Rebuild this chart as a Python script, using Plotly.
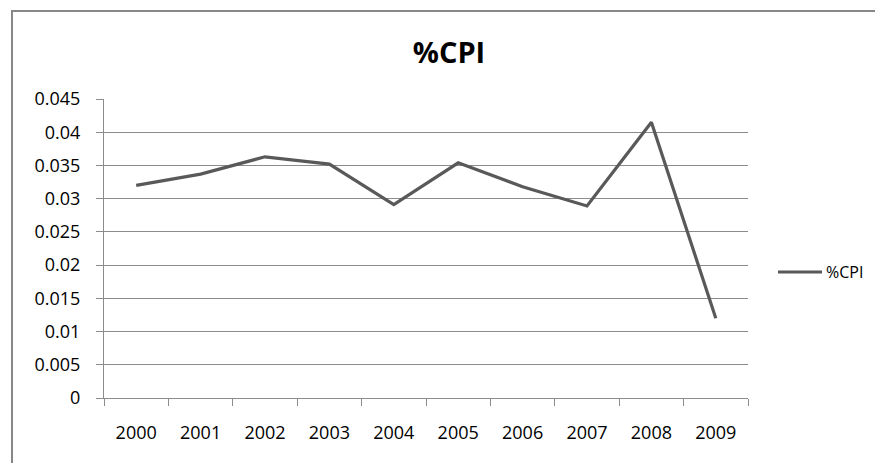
import plotly.graph_objects as go

years = ["2000", "2001", "2002", "2003", "2004", "2005", "2006", "2007", "2008", "2009"]
cpi = [0.0320, 0.0337, 0.0363, 0.0352, 0.0291, 0.0354, 0.0318, 0.0289, 0.0415, 0.0120]
y_ticks = [0, 0.005, 0.01, 0.015, 0.02, 0.025, 0.03, 0.035, 0.04, 0.045]
y_labels = ["0", "0.005", "0.01", "0.015", "0.02", "0.025", "0.03", "0.035", "0.04", "0.045"]
series_name = "%CPI"

W, H = 875, 463
L, R, T, B = 104, 748, 99, 398
GRID = "#8c8c8c"
LINE = "#595959"
FONT = "Open Sans"

fig = go.Figure()
fig.add_trace(go.Scatter(
    x=years, y=cpi, mode="lines", name=series_name,
    line=dict(color=LINE, width=3.2), showlegend=False,
))

pw, ph = R - L, B - T

def px(x):
    return (x - L) / pw

def py(y):
    return (B - y) / ph

# chart-area frame
fig.add_shape(
    type="rect", xref="paper", yref="paper",
    x0=px(12), x1=px(W + 20), y0=py(H + 20), y1=py(11),
    line=dict(color="#878787", width=2), fillcolor="rgba(0,0,0,0)", layer="below",
)

# legend: line sample and series name
fig.add_shape(
    type="line", xref="paper", yref="paper",
    x0=px(778), x1=px(822), y0=py(272), y1=py(272),
    line=dict(color=LINE, width=3.2),
)
fig.add_annotation(
    xref="paper", yref="paper", x=px(824), y=py(272),
    xanchor="left", yanchor="middle", showarrow=False,
    text=series_name, font=dict(family=FONT, size=16, color="#000000"),
)

fig.update_layout(
    width=W, height=H,
    margin=dict(l=L, r=W - R, t=T, b=H - B, pad=0),
    paper_bgcolor="white", plot_bgcolor="white",
    font=dict(family=FONT, size=15, color="#000000"),
    title=dict(text="<b>%CPI</b>", x=449 / W, xanchor="center",
               y=1 - 53 / H, yanchor="middle",
               font=dict(family=FONT, size=29, color="#000000")),
    showlegend=False,
    xaxis=dict(
        type="category", range=[-0.5, 9.5], tickson="boundaries",
        ticks="outside", ticklen=7, tickcolor=GRID, tickwidth=1,
        showline=True, linecolor=GRID, linewidth=1,
        showgrid=False, zeroline=False,
        tickfont=dict(family=FONT, size=18), ticklabelstandoff=18,
    ),
    yaxis=dict(
        range=[0, 0.045], tickvals=y_ticks, ticktext=y_labels,
        ticks="outside", ticklen=7, tickcolor=GRID, tickwidth=1,
        showline=True, linecolor=GRID, linewidth=1,
        showgrid=True, gridcolor=GRID, gridwidth=1, zeroline=False,
        tickfont=dict(family=FONT, size=18), ticklabelstandoff=12,
    ),
)

fig.write_html("out.html")
